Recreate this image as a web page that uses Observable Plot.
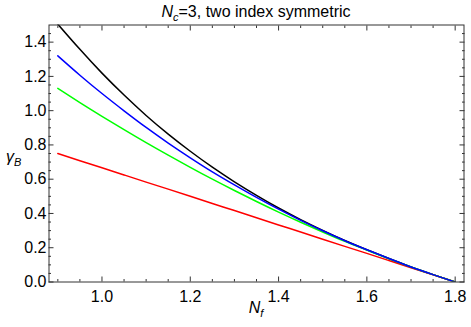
<!DOCTYPE html>
<html>
<head>
<meta charset="utf-8">
<script src="https://cdn.jsdelivr.net/npm/d3@7"></script>
<script src="https://cdn.jsdelivr.net/npm/@observablehq/plot@0.6"></script>
<style>
  body { margin: 0; background: #fff; }
  svg { font-family: "Liberation Sans", Arial, sans-serif; }
</style>
</head>
<body>
<div id="chart"></div>
<script>
// N_f sample points
const nf = [0.90, 0.95, 1.00, 1.05, 1.10, 1.15, 1.20, 1.25, 1.30, 1.35, 1.40, 1.45, 1.50, 1.55, 1.60, 1.65, 1.70, 1.75, 1.80];
// gamma_B values
const gammaRed   = [0.750, 0.708, 0.667, 0.625, 0.583, 0.542, 0.500, 0.458, 0.417, 0.375, 0.333, 0.292, 0.250, 0.208, 0.167, 0.125, 0.083, 0.042, 0.000];
const gammaGreen = [1.130, 1.047, 0.967, 0.889, 0.813, 0.740, 0.669, 0.600, 0.534, 0.470, 0.408, 0.349, 0.292, 0.237, 0.186, 0.136, 0.088, 0.043, 0.000];
const gammaBlue  = [1.320, 1.207, 1.100, 0.999, 0.902, 0.811, 0.725, 0.643, 0.567, 0.494, 0.425, 0.360, 0.299, 0.241, 0.188, 0.137, 0.088, 0.043, 0.000];
const gammaBlack = [1.505, 1.358, 1.219, 1.091, 0.972, 0.863, 0.763, 0.670, 0.585, 0.506, 0.432, 0.364, 0.301, 0.242, 0.188, 0.137, 0.088, 0.043, 0.000];

const seriesNames  = ["black", "red", "green", "blue"];
const seriesColors = ["#000000", "#ff0000", "#00ff00", "#0000ff"];
const seriesValues = [gammaBlack, gammaRed, gammaGreen, gammaBlue];

const xMajor = [1.0, 1.2, 1.4, 1.6, 1.8];
const xMinor = [0.90, 0.95, 1.05, 1.10, 1.15, 1.25, 1.30, 1.35, 1.45, 1.50, 1.55, 1.65, 1.70, 1.75];
const yMajor = [0.0, 0.2, 0.4, 0.6, 0.8, 1.0, 1.2, 1.4];
const yMinor = [0.05, 0.10, 0.15, 0.25, 0.30, 0.35, 0.45, 0.50, 0.55, 0.65, 0.70, 0.75, 0.85, 0.90, 0.95, 1.05, 1.10, 1.15, 1.25, 1.30, 1.35, 1.45];

const titleParts = {main: "N", sub: "c", rest: "=3, two index symmetric"};
const xLabel = {main: "N", sub: "f"};
const yLabel = {main: "γ", sub: "B"};

const rows = [];
seriesNames.forEach((s, k) => nf.forEach((x, i) => rows.push({nf: x, g: seriesValues[k][i], s})));

const frameColor = "#333";
const fs = 16;

const lineMarks = seriesNames.map((s, k) =>
  Plot.line(rows.filter(d => d.s === s), {x: "nf", y: "g", stroke: seriesColors[k], strokeWidth: 1.5, curve: "natural", clip: true})
);

const plot = Plot.plot({
  width: 471,
  height: 327,
  marginLeft: 48.5,
  marginRight: 7.5,
  marginTop: 24.5,
  marginBottom: 45.5,
  style: {fontFamily: "'Liberation Sans', Arial, sans-serif", fontSize: "16px", background: "#fff"},
  x: {domain: [0.88, 1.82]},
  y: {domain: [0, 1.5]},
  marks: [
    ...lineMarks,
    Plot.frame({stroke: frameColor, strokeWidth: 1}),
    // inward major/minor ticks on all four sides
    Plot.axisX(xMajor, {anchor: "bottom", tickSize: -5, text: null, label: null, stroke: frameColor}),
    Plot.axisX(xMinor, {anchor: "bottom", tickSize: -2.5, text: null, label: null, stroke: frameColor}),
    Plot.axisX(xMajor, {anchor: "top", tickSize: -5, text: null, label: null, stroke: frameColor}),
    Plot.axisX(xMinor, {anchor: "top", tickSize: -2.5, text: null, label: null, stroke: frameColor}),
    Plot.axisY(yMajor, {anchor: "left", tickSize: -5, text: null, label: null, stroke: frameColor}),
    Plot.axisY(yMinor, {anchor: "left", tickSize: -2.5, text: null, label: null, stroke: frameColor}),
    Plot.axisY(yMajor, {anchor: "right", tickSize: -5, text: null, label: null, stroke: frameColor}),
    Plot.axisY(yMinor, {anchor: "right", tickSize: -2.5, text: null, label: null, stroke: frameColor}),
    // tick labels
    Plot.axisX(xMajor, {anchor: "bottom", tickSize: 0, tickPadding: 8.5, tickFormat: d3.format(".1f"), fontSize: fs, fill: "#000", label: null}),
    Plot.axisY(yMajor, {anchor: "left", tickSize: 0, tickPadding: 2.5, tickFormat: d3.format(".1f"), fontSize: fs, fill: "#000", label: null})
  ]
});

const svg = d3.select(plot);
svg.selectAll("g[aria-label$='tick label'] text, g[aria-label$='tick label']").attr("font-size", fs);
const cx = (48.5 + 463.5) / 2;

// Title
const t = svg.append("text")
  .attr("x", cx).attr("y", 16.5)
  .attr("text-anchor", "middle")
  .attr("font-size", fs).attr("fill", "#000");
t.append("tspan").attr("font-style", "italic").text(titleParts.main);
t.append("tspan").attr("font-style", "italic").attr("font-size", 11).attr("dy", 4).text(titleParts.sub);
t.append("tspan").attr("dy", -4).text(titleParts.rest);

// x label
const xl = svg.append("text")
  .attr("x", 256).attr("y", 313.3)
  .attr("text-anchor", "middle")
  .attr("font-size", fs).attr("fill", "#000");
xl.append("tspan").attr("font-style", "italic").text(xLabel.main);
xl.append("tspan").attr("font-style", "italic").attr("font-size", 11).attr("dy", 4).text(xLabel.sub);

// y label
const yl = svg.append("text")
  .attr("x", 6).attr("y", 161.5)
  .attr("text-anchor", "start")
  .attr("font-size", fs).attr("fill", "#000");
yl.append("tspan").attr("font-style", "italic").text(yLabel.main);
yl.append("tspan").attr("font-style", "italic").attr("font-size", 11).attr("dy", 4.5).text(yLabel.sub);

document.getElementById("chart").appendChild(plot);
</script>
</body>
</html>
